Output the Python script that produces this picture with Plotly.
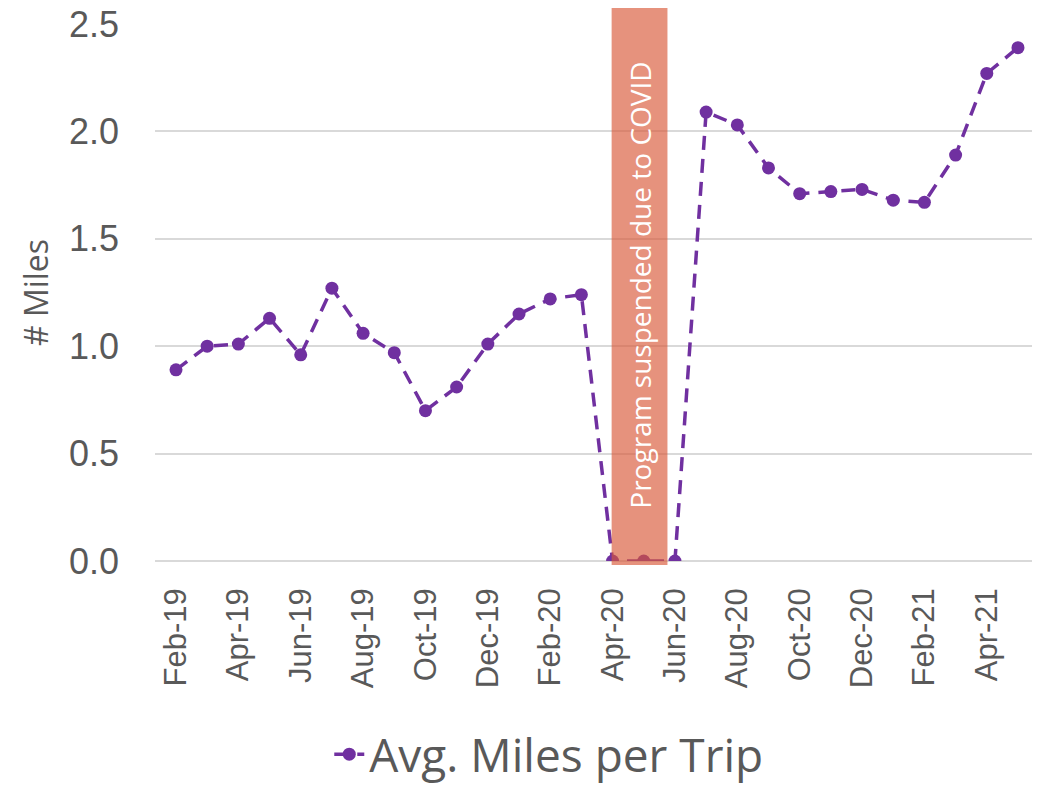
import plotly.graph_objects as go

months = ["Feb-19", "Mar-19", "Apr-19", "May-19", "Jun-19", "Jul-19", "Aug-19", "Sep-19",
          "Oct-19", "Nov-19", "Dec-19", "Jan-20", "Feb-20", "Mar-20", "Apr-20", "May-20",
          "Jun-20", "Jul-20", "Aug-20", "Sep-20", "Oct-20", "Nov-20", "Dec-20", "Jan-21",
          "Feb-21", "Mar-21", "Apr-21", "May-21"]
avg_miles = [0.89, 1.00, 1.01, 1.13, 0.96, 1.27, 1.06, 0.97, 0.70, 0.81, 1.01, 1.15,
             1.22, 1.24, 0.0, 0.0, 0.0, 2.09, 2.03, 1.83, 1.71, 1.72, 1.73, 1.68,
             1.67, 1.89, 2.27, 2.39]
y_ticks = [0.0, 0.5, 1.0, 1.5, 2.0, 2.5]
suspended_start = "Apr-20"
suspended_label = "Program suspended due to COVID"

idx = list(range(len(months)))
SANS = "Open Sans, Lato, sans-serif"
ARIAL = "Liberation Sans, Arial, sans-serif"
GREY = "#595959"

fig = go.Figure()
fig.add_trace(go.Scatter(
    x=idx, y=avg_miles, mode="lines+markers", name="Avg. Miles per Trip",
    line=dict(color="#7030A0", width=3.5, dash="14px,9px"),
    marker=dict(color="#7030A0", size=13),
))

s = months.index(suspended_start)
fig.add_shape(type="rect", xref="x", yref="paper", x0=s - 0.03, x1=s + 1.76,
              y0=-0.0075, y1=1.03, fillcolor="rgb(216,88,56)", opacity=0.65,
              line=dict(width=0), layer="above")
fig.add_annotation(x=s + 0.87, xref="x", y=0.514, yref="paper", text=suspended_label,
                   textangle=-90, showarrow=False,
                   font=dict(family=SANS, size=28, color="white"))

fig.update_layout(
    width=1046, height=785,
    margin=dict(l=155, r=14, t=24, b=224, autoexpand=False),
    plot_bgcolor="white", paper_bgcolor="white",
    font=dict(family=SANS, color=GREY),
    showlegend=True,
    legend=dict(orientation="h", x=0.449, xanchor="center", y=-0.36, yanchor="middle",
                font=dict(size=46, color=GREY, family=SANS)),
    xaxis=dict(range=[-0.673, 27.45], tickmode="array",
               tickvals=idx[::2], ticktext=months[::2], tickangle=-90,
               tickfont=dict(size=31, color=GREY, family=ARIAL), showgrid=False,
               showline=False, zeroline=False, ticks="", ticklabelstandoff=20,
               automargin=False),
    yaxis=dict(range=[0, 2.5], tickvals=y_ticks, ticktext=[f"{v:.1f}" for v in y_ticks],
               tickfont=dict(size=36, color=GREY, family=ARIAL), showgrid=True,
               gridcolor="#D9D9D9", gridwidth=1.5, zeroline=True,
               zerolinecolor="#D9D9D9", zerolinewidth=1.5, showline=False,
               ticks="", ticklabelstandoff=35, automargin=False,
               ticklabeloverflow="allow",
               title=dict(text="# Miles", font=dict(size=32, color=GREY, family=SANS),
                          standoff=10)),
)

fig.write_html("out.html", config={"displayModeBar": False},
               post_script="document.body.style.margin='0';")
